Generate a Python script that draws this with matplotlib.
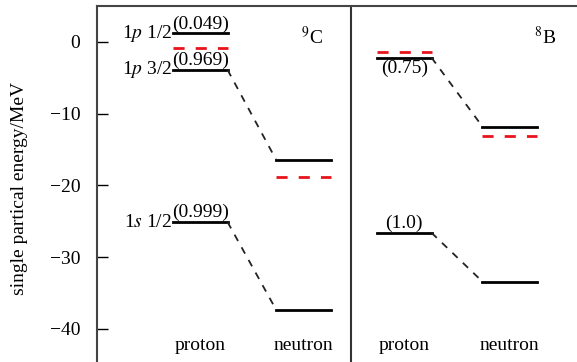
import matplotlib.pyplot as plt

plt.rcParams['font.family'] = ['Liberation Serif', 'DejaVu Serif']
plt.rcParams['mathtext.fontset'] = 'stix'

# level energies (MeV)
c9_proton = [1.2, -3.9, -25.1]
c9_proton_red = [-0.9]
c9_neutron = [-16.4, -37.3]
c9_neutron_red = [-18.8]
b8_proton = [-2.2, -26.6]
b8_proton_red = [-1.4]
b8_neutron = [-11.8, -33.4]
b8_neutron_red = [-13.1]

c9_labels = ['1$p$ 1/2', '1$p$ 3/2', '1$s$ 1/2']
c9_sf = ['(0.049)', '(0.969)', '(0.999)']
b8_sf = ['(0.75)', '(1.0)']
yticks = [0, -10, -20, -30, -40]

# x layout
xp9, xn9, xdiv, xp8, xn8 = 2.15, 4.3, 5.3, 6.4, 8.6
hw = 0.57

fig = plt.figure(figsize=(5.77, 3.62), dpi=100)
ax = fig.add_axes([97/577, 0, 480/577, 356/362])
ax.set_xlim(0, 10)
ax.set_ylim(-44.6, 5)

def level(x, e, red=False):
    if red:
        ax.plot([x - hw, x + hw], [e, e], color='#e8141b', lw=2, dashes=(4, 4))
    else:
        ax.plot([x - hw, x + hw], [e, e], color='black', lw=2)

def link(x1, e1, x2, e2):
    ax.plot([x1 + hw, x2 - hw], [e1, e2], color='#222222', lw=1.3, dashes=(4, 4))

for e in c9_proton:
    level(xp9, e)
for e in c9_proton_red:
    level(xp9, e, red=True)
for e in c9_neutron:
    level(xn9, e)
for e in c9_neutron_red:
    level(xn9, e, red=True)
for e in b8_proton:
    level(xp8, e)
for e in b8_proton_red:
    level(xp8, e, red=True)
for e in b8_neutron:
    level(xn8, e)
for e in b8_neutron_red:
    level(xn8, e, red=True)

link(xp9, c9_proton[1], xn9, c9_neutron[0])
link(xp9, c9_proton[2], xn9, c9_neutron[1])
link(xp8, b8_proton[0], xn8, b8_neutron[0])
link(xp8, b8_proton[1], xn8, b8_neutron[1])

fs = 14
for e, lab, sf in zip(c9_proton, c9_labels, c9_sf):
    ax.text(xp9 - hw - 0.02, e, lab, ha='right', va='center', fontsize=fs)
    ax.text(xp9, e + 0.1, sf, ha='center', va='bottom', fontsize=fs)
ax.text(xp8, b8_proton[0] - 0.3, b8_sf[0], ha='center', va='top', fontsize=fs)
ax.text(xp8, b8_proton[1] + 0.1, b8_sf[1], ha='center', va='bottom', fontsize=fs)

ax.text(4.48, 0.7, '$^{9}$C', ha='center', va='center', fontsize=fs)
ax.text(9.33, 0.7, '$^{8}$B', ha='center', va='center', fontsize=fs)

for x, name in [(xp9, 'proton'), (xn9, 'neutron'), (xp8, 'proton'), (xn8, 'neutron')]:
    ax.text(x, -42.3, name, ha='center', va='center', fontsize=fs)

ax.axvline(xdiv, color='#333333', lw=1.5)

ax.set_yticks(yticks)
ax.set_yticklabels(['0' if t == 0 else '\u2212%d' % -t for t in yticks], fontsize=fs)
ax.tick_params(axis='y', direction='in', length=8, width=1, pad=12)
ax.set_xticks([])
ax.set_ylabel('')
fig.text(20/577, 1 - 188/362, 'single partical energy/MeV', rotation=90,
         ha='center', va='center', fontsize=fs)
for s in ['left', 'top']:
    ax.spines[s].set_color('#444444')
    ax.spines[s].set_linewidth(1.5)
ax.spines['right'].set_visible(False)
ax.spines['bottom'].set_visible(False)

fig.savefig('out.png', dpi=100)
